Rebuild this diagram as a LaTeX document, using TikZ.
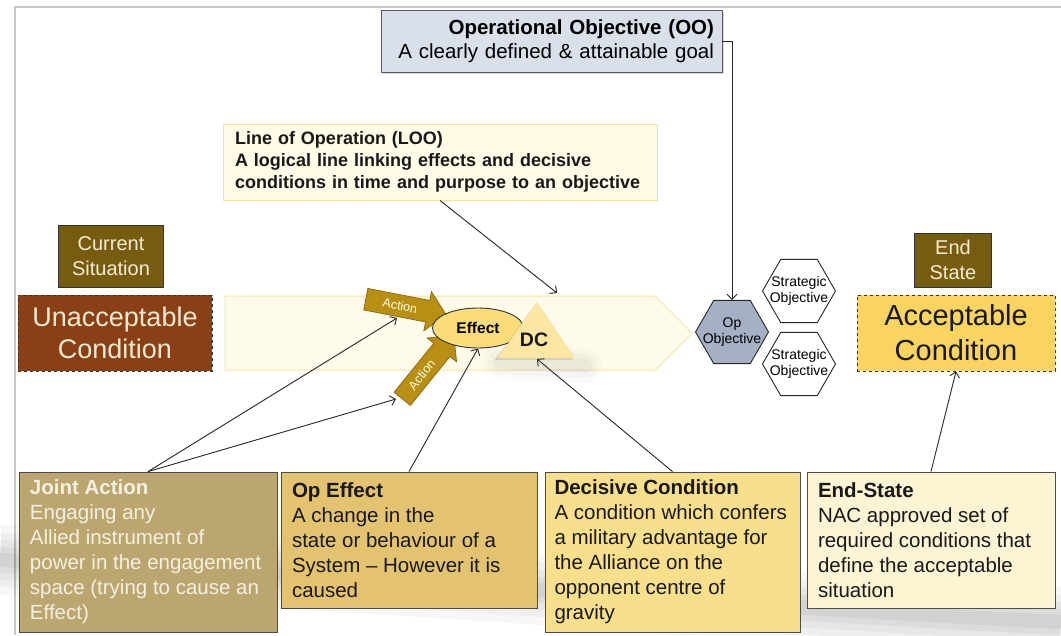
\documentclass[tikz,border=0pt]{standalone}
\usepackage{fontspec}
\setmainfont{Liberation Sans}
\usetikzlibrary{shapes.geometric,arrows.meta,shadows}
\definecolor{ooFill}{HTML}{D9E0EA}
\definecolor{ooLine}{HTML}{5A5A5A}
\definecolor{looFill}{HTML}{FFFBE6}
\definecolor{looLine}{HTML}{F4E29C}
\definecolor{chevFill}{HTML}{FFFBEB}
\definecolor{chevLine}{HTML}{F7E6A6}
\definecolor{olivebox}{HTML}{775C10}
\definecolor{rustbox}{HTML}{8A4014}
\definecolor{creamtxt}{HTML}{F6EBD2}
\definecolor{accFill}{HTML}{FAD461}
\definecolor{hexFill}{HTML}{A6B0C5}
\definecolor{effFill}{HTML}{FBDC78}
\definecolor{dcFill}{HTML}{FCE6A4}
\definecolor{actFill}{HTML}{B88F12}
\definecolor{actLine}{HTML}{7E620C}
\definecolor{jaFill}{HTML}{BBA66F}
\definecolor{jaTxt}{HTML}{F5F0E2}
\definecolor{oeFill}{HTML}{E3C370}
\definecolor{dcbFill}{HTML}{F8DF8B}
\definecolor{esFill}{HTML}{FDF4D4}
\definecolor{frameGray}{HTML}{C8C8C8}
\begin{document}
\begin{tikzpicture}[x=1pt,y=-1pt,
  conn/.style={draw=black!85, line width=0.9pt, -{Straight Barb[length=5pt,width=10pt]}},
  txtbox/.style={rectangle, draw=black!70, line width=0.8pt, inner ysep=0pt, align=flush left, font=\fontsize{20.5}{25}\selectfont},
  tagbox/.style={rectangle, draw=black!80, line width=0.8pt, inner sep=0pt, align=center},
  hexa/.style={regular polygon, regular polygon sides=6, minimum size=73pt, inner sep=0pt, draw=black!85, line width=0.9pt},
  hextext/.style={align=center, inner sep=0pt, font=\fontsize{14}{16}\selectfont},
  actshape/.style={fill=actFill, draw=actLine, line width=0.6pt, line join=miter},
  acttext/.style={inner sep=0pt, text=white!92!yellow, font=\fontsize{12.5}{12.5}\selectfont}
]
\fill[white] (0,0) rectangle (1061,635);
\useasboundingbox (0,0) rectangle (1061,635);
% slide frame
\draw[frameGray, line width=2pt] (15,635) -- (15,7) -- (1061,7);
% soft grey reflection band
\foreach \w/\o in {70/0.03, 54/0.03, 40/0.035, 26/0.04, 14/0.045}
  \draw[black, opacity=\o, line width=\w pt] (0,560) .. controls (400,575) and (700,605) .. (1061,622);

% line of operation chevron
\path[fill=chevFill, draw=chevLine, line width=1pt] (225,296) -- (655,296) -- (692,333) -- (655,370) -- (225,370) -- cycle;

% top boxes
\node[rectangle, fill=ooFill, draw=ooLine, line width=0.8pt, inner xsep=8pt, inner ysep=0pt, text width=325pt, minimum height=62pt, align=right, font=\fontsize{20.5}{24}\selectfont, drop shadow={shadow xshift=2pt, shadow yshift=-2pt, opacity=0.3}] (oo) at (551.5,41) {\textbf{Operational Objective (OO)}\\A clearly defined \& attainable goal};
\node[rectangle, fill=looFill, draw=looLine, line width=1pt, inner xsep=12pt, inner ysep=0pt, text width=410pt, minimum height=76pt, align=left, text=black!90, font=\bfseries\fontsize{18}{22}\selectfont] (loo) at (440,162) {Line of Operation (LOO)\\A logical line linking effects and decisive\\conditions in time and purpose to an objective};

% side labels
\node[tagbox, fill=olivebox, text=creamtxt, minimum width=105pt, minimum height=62pt, font=\fontsize{20}{25}\selectfont] (cur) at (111,256) {Current\\Situation};
\node[tagbox, dashed, fill=rustbox, text=creamtxt, minimum width=194pt, minimum height=76pt, font=\fontsize{27}{32}\selectfont] (unacc) at (115,333) {Unacceptable\\Condition};
\node[tagbox, fill=olivebox, text=creamtxt, minimum width=77pt, minimum height=54pt, font=\fontsize{20}{25}\selectfont] (endlbl) at (953,260) {End\\State};
\node[tagbox, dashed, fill=accFill, text=black!90, minimum width=198pt, minimum height=76pt, font=\fontsize{29}{35}\selectfont] (accept) at (956,333) {Acceptable\\Condition};

% objectives
\node[hexa, fill=hexFill] (opobj) at (732,332) {};
\node[hextext] (opobjtxt) at (opobj) {Op\\Objective};
\node[hexa, fill=white] (strat1) at (799,291) {};
\node[hextext] (strat1txt) at (strat1) {Strategic\\Objective};
\node[hexa, fill=white] (strat2) at (799,364) {};
\node[hextext] (strat2txt) at (strat2) {Strategic\\Objective};

% actions
\begin{scope}[shift={(406,307)}, rotate=-11]
  \path[actshape] (-41,-11) -- (22,-11) -- (22,-20) -- (41,0) -- (22,20) -- (22,11) -- (-41,11) -- cycle;
  \node[acttext, rotate=-11] (act1) at (-6,0) {Action};
\end{scope}
\begin{scope}[shift={(428,367)}, rotate=51]
  \path[actshape] (-41,-10.5) -- (22,-10.5) -- (22,-19) -- (41,0) -- (22,19) -- (22,10.5) -- (-41,10.5) -- cycle;
  \node[acttext, rotate=51] (act2) at (-10,0) {Action};
\end{scope}

% effect and DC
\foreach \w/\o in {34/0.02, 24/0.025, 14/0.03}
  \draw[black, opacity=\o, line width=\w pt, line cap=round] (500,362) -- (585,366);
\node[ellipse, fill=effFill, draw=black!80, line width=0.9pt, minimum width=91pt, minimum height=40pt, inner sep=0pt, font=\bfseries\fontsize{15.5}{16}\selectfont] (effect) at (478,328) {Effect};
\fill[black, opacity=0.10] (535,304) -- (573,360) -- (495,360) -- cycle;
\fill[dcFill] (537,302) -- (575,358) -- (498,358) -- cycle;
\node[font=\bfseries\fontsize{19.5}{20}\selectfont, text=black!90] (dc) at (534,340) {DC};

% bottom definition boxes
\node[txtbox, fill=jaFill, text=jaTxt, inner xsep=11pt, text width=236pt, minimum height=160pt] (joint) at (148,552) {\textbf{Joint Action}\\Engaging any\\Allied instrument of\\power in the engagement\\space (trying to cause an\\Effect)};
\node[txtbox, fill=oeFill, text=black!90, inner xsep=11pt, text width=234pt, minimum height=136pt] (opeff) at (409,540) {\textbf{Op Effect}\\A change in the\\state or behaviour of a\\System -- However it is\\caused};
\node[txtbox, fill=dcbFill, text=black!90, inner xsep=9.5pt, text width=236pt, minimum height=160pt] (deccond) at (672.5,552) {\textbf{Decisive Condition}\\A condition which confers\\a military advantage for\\the Alliance on the\\opponent centre of\\gravity};
\node[txtbox, fill=esFill, text=black!90, inner xsep=11pt, text width=226pt, minimum height=136pt] (endst) at (931,540) {\textbf{End-State}\\NAC approved set of\\required conditions that\\define the acceptable\\situation};

% connector end points
\coordinate (looend) at (557,293);
\coordinate (act1tail) at (397,318);
\coordinate (act2tail) at (396,399);
\coordinate (dcbase) at (537,359);

% connectors
\draw[conn] (oo.east) -| (opobj.north);
\draw[conn] (loo.south) -- (looend);
\draw[conn] (joint.north) -- (act1tail);
\draw[conn] (joint.north) -- (act2tail);
\draw[conn] (opeff.north) -- (effect.south);
\draw[conn] (deccond.north) -- (dcbase);
\draw[conn] (endst.north) -- (accept.south);
\end{tikzpicture}
\end{document}
